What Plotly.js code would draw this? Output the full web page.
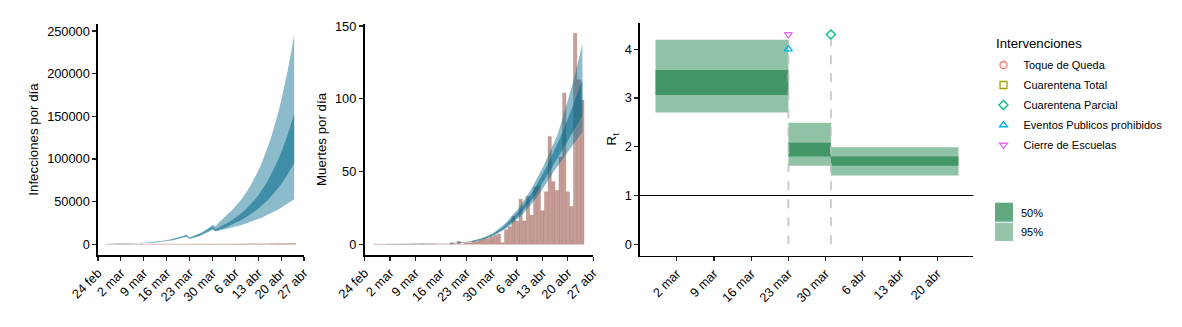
<!DOCTYPE html>
<html><head><meta charset="utf-8">
<script src="https://cdn.plot.ly/plotly-3.0.1.min.js"></script>
<style>html,body{margin:0;padding:0;background:#fff}#chart{width:1182px;height:327px}</style>
</head><body><div id="chart"></div>
<script>
// ---- dates (one per modelled day) ----
const dates = ['2020-02-27','2020-02-28','2020-02-29','2020-03-01','2020-03-02','2020-03-03','2020-03-04','2020-03-05','2020-03-06','2020-03-07',
'2020-03-08','2020-03-09','2020-03-10','2020-03-11','2020-03-12','2020-03-13','2020-03-14','2020-03-15','2020-03-16','2020-03-17',
'2020-03-18','2020-03-19','2020-03-20','2020-03-21','2020-03-22','2020-03-23','2020-03-24','2020-03-25','2020-03-26','2020-03-27',
'2020-03-28','2020-03-29','2020-03-30','2020-03-31','2020-04-01','2020-04-02','2020-04-03','2020-04-04','2020-04-05','2020-04-06',
'2020-04-07','2020-04-08','2020-04-09','2020-04-10','2020-04-11','2020-04-12','2020-04-13','2020-04-14','2020-04-15','2020-04-16',
'2020-04-17','2020-04-18','2020-04-19','2020-04-20','2020-04-21','2020-04-22','2020-04-23','2020-04-24'];

// ---- panel 1: infections per day ----
const reportedCases = [0,0,0,1,1,0,1,1,0,0,0,0,0,3,4,5,10,15,15,26,
28,46,39,48,65,51,38,48,132,106,124,141,156,157,130,170,192,175,
290,300,260,350,430,440,520,380,400,450,480,300,600,620,770,760,690,760,900,1090];
const infections95High = [327,378,439,509,591,685,796,922,1070,1241,1440,1670,1938,2247,2607,3025,3509,4070,4721,5476,6350,7367,8547,9914,11500,
8120,9400,10890,12610,14600,16910,19580,22680,
21000,25500,29500,33200,36600,40200,44200,48700,53500,58900,64800,71300,78400,86200,94800,104300,114800,126200,138900,152700,168000,184800,203300,223600,246000];
const infections50High = [301,349,405,470,545,632,734,850,986,1144,1327,1539,1786,2071,2403,2788,3234,3751,4351,5048,5853,6790,7878,9138,10600,
7420,8590,9950,11520,13350,15450,17890,20720,
18000,19700,21500,23500,25700,28100,30800,33600,36800,40200,44000,48100,52600,57500,62800,68700,75100,82200,89800,98200,107400,117400,128400,140400,153500];
const infections50Low = [270,313,363,421,488,566,657,762,884,1025,1189,1379,1601,1856,2154,2499,2898,3362,3900,4524,5246,6086,7060,8190,9500,
6650,7700,8920,10330,11960,13850,16040,18570,
15810,17030,18350,19780,21310,22970,24750,26670,28740,30970,33370,35960,38750,41760,45000,48490,52250,56310,60680,65380,70450,75920,81810,88160,95000];
const infections95Low = [247,286,332,385,447,519,602,698,809,939,1089,1263,1466,1700,1972,2288,2654,3079,3571,4143,4804,5573,6466,7500,8700,
6020,6970,8080,9350,10830,12540,14520,16810,
14910,15720,16570,17460,18410,19400,20450,21550,22720,23940,25240,26600,28030,29550,31140,32830,34600,36470,38440,40510,42700,45010,47440,50000,52700];

// ---- panel 2: deaths per day ----
const deaths = [0,0,0,0,0,0,0,0,0,0,0,0,0,0,0,0,0,0,0,0,
0,1,0,2,0,1,1,2,2,3,4,4,5,6,7,1,10,12,19,16,31,16,33,20,39,40,23,36,74,43,37,60,104,36,26,145,113,99];
const deaths95Low = [0.01,0.01,0.01,0.01,0.02,0.02,0.03,0.03,0.03,0.04,0.05,0.06,0.08,0.09,0.12,0.14,0.18,0.22,0.28,0.34,0.43,0.52,0.65,0.79,0.98,1.21,1.5,
1.85,2.29,2.82,3.47,4.23,5.17,6.28,7.6,9.1,10.78,12.65,14.7,16.91,19.25,21.81,24.59,27.59,30.8,34.2,37.81,41.57,45.49,49.53,53.65,57.08,60.35,63.73,67.08,70.53,73.91,77.37];
const deaths95High = [0.01,0.01,0.01,0.01,0.02,0.02,0.04,0.04,0.05,0.06,0.07,0.08,0.11,0.13,0.17,0.2,0.25,0.31,0.39,0.47,0.59,0.72,0.9,1.1,1.36,1.68,2.08,
2.57,3.17,3.92,4.81,5.88,7.17,8.72,10.55,12.63,14.96,17.56,20.4,23.47,26.73,30.28,34.14,38.3,42.75,47.48,52.49,57.71,63.15,68.76,74.48,82.11,90.04,98.49,107.54,117.04,127.09,137.66];
const deaths50Low = [0.01,0.01,0.01,0.01,0.02,0.02,0.03,0.03,0.04,0.05,0.06,0.07,0.08,0.1,0.13,0.16,0.2,0.24,0.31,0.37,0.47,0.57,0.71,0.86,1.07,1.32,1.64,
2.03,2.5,3.09,3.79,4.63,5.65,6.87,8.31,9.95,11.79,13.84,16.08,18.5,21.06,23.86,26.9,30.19,33.69,37.42,41.37,45.49,49.77,54.19,58.7,62.79,66.84,70.99,75.17,79.51,83.94,88.42];
const deaths50High = [0.01,0.01,0.01,0.01,0.02,0.02,0.03,0.03,0.04,0.05,0.06,0.08,0.1,0.12,0.15,0.18,0.23,0.28,0.36,0.43,0.54,0.66,0.82,1.0,1.24,1.53,1.9,
2.35,2.91,3.59,4.41,5.38,6.57,7.98,9.66,11.56,13.69,16.07,18.67,21.48,24.46,27.71,31.24,35.06,39.13,43.46,48.04,52.82,57.8,62.93,68.17,73.95,79.83,85.99,92.52,99.26,106.27,113.54];

// ---- panel 3: Rt by period ----
const rtPeriodStart = ['2020-02-27','2020-03-23','2020-03-31'];
const rtPeriodEnd   = ['2020-03-23','2020-03-31','2020-04-24'];
const rt95Low  = [2.70, 1.61, 1.41];
const rt95High = [4.19, 2.49, 1.99];
const rt50Low  = [3.06, 1.80, 1.61];
const rt50High = [3.57, 2.08, 1.80];

const interventionNames = ['Toque de Queda','Cuarentena Total','Cuarentena Parcial','Eventos Publicos prohibidos','Cierre de Escuelas'];
const interventionDates = [null, null, '2020-03-31', '2020-03-23', '2020-03-23'];
const interventionRt    = [null, null, 4.3, 4.0, 4.3];
const interventionSymbols = ['circle-open','square-open','diamond-open','triangle-up-open','triangle-down-open'];
const interventionColors  = ['#F8766D','#A3A500','#00BF7D','#00B0F6','#E76BF3'];

// ---- ticks ----
const tickDates  = ['2020-02-24','2020-03-02','2020-03-09','2020-03-16','2020-03-23','2020-03-30','2020-04-06','2020-04-13','2020-04-20','2020-04-27'];
const tickLabels = ['24 feb','2 mar','9 mar','16 mar','23 mar','30 mar','6 abr','13 abr','20 abr','27 abr'];
const rtTickDates  = ['2020-03-02','2020-03-09','2020-03-16','2020-03-23','2020-03-30','2020-04-06','2020-04-13','2020-04-20'];
const rtTickLabels = ['2 mar','9 mar','16 mar','23 mar','30 mar','6 abr','13 abr','20 abr'];
const infTicks = [0,50000,100000,150000,200000,250000];
const deathTicks = [0,50,100,150];
const rtTicks = [0,1,2,3,4];
const legendTitle = 'Intervenciones';
const bandLegend = ['50%','95%'];

// ---- styling ----
const FONT = 'Liberation Sans, Arial, Helvetica, sans-serif';
const BLUE95 = 'rgba(0,104,139,0.45)', BLUE50 = 'rgba(0,104,139,0.55)';
const CORAL = 'rgba(139,62,47,0.5)';
const GREEN95 = 'rgba(46,139,87,0.53)', GREEN50 = 'rgba(46,139,87,0.8)';
const DAY = 86400000;
const TICKSIZE = 12.8, TITLESIZE = 13.3, LEGSIZE = 11;

function ribbon(x, lo, hi, color, xa, ya) {
  return {type:'scatter', mode:'lines', x: x.concat(x.slice().reverse()), y: hi.concat(lo.slice().reverse()),
    fill:'toself', fillcolor: color, line:{width:0}, hoverinfo:'skip', showlegend:false, xaxis:xa, yaxis:ya};
}
function bars(x, y, xa, ya) {
  return {type:'bar', x, y, width:0.9*DAY, marker:{color:CORAL, line:{width:0.6, color:'rgba(139,62,47,0.35)'}},
    showlegend:false, hoverinfo:'skip', xaxis:xa, yaxis:ya};
}

const traces = [];
traces.push(bars(dates, reportedCases, 'x', 'y'));
traces.push(ribbon(dates, infections95Low, infections95High, BLUE95, 'x', 'y'));
traces.push(ribbon(dates, infections50Low, infections50High, BLUE50, 'x', 'y'));

traces.push(bars(dates, deaths, 'x2', 'y2'));
traces.push(ribbon(dates, deaths95Low, deaths95High, BLUE95, 'x2', 'y2'));
traces.push(ribbon(dates, deaths50Low, deaths50High, BLUE50, 'x2', 'y2'));

for (let i = 0; i < rtPeriodStart.length; i++) {
  const xs = [rtPeriodStart[i], rtPeriodEnd[i], rtPeriodEnd[i], rtPeriodStart[i]];
  traces.push({type:'scatter', mode:'lines', x:xs, y:[rt95Low[i],rt95Low[i],rt95High[i],rt95High[i]], fill:'toself',
    fillcolor:GREEN95, line:{width:0}, hoverinfo:'skip', showlegend:false, xaxis:'x3', yaxis:'y3'});
}
for (let i = 0; i < rtPeriodStart.length; i++) {
  const xs = [rtPeriodStart[i], rtPeriodEnd[i], rtPeriodEnd[i], rtPeriodStart[i]];
  traces.push({type:'scatter', mode:'lines', x:xs, y:[rt50Low[i],rt50Low[i],rt50High[i],rt50High[i]], fill:'toself',
    fillcolor:GREEN50, line:{width:0}, hoverinfo:'skip', showlegend:false, xaxis:'x3', yaxis:'y3'});
}
// dashed intervention lines
const rtTop = Math.max(...rt95High);
const seen = {};
interventionDates.forEach(d => {
  if (!d || seen[d]) return; seen[d] = true;
  traces.push({type:'scatter', mode:'lines', x:[d,d], y:[0, rtTop], line:{color:'rgba(190,190,190,0.85)', width:1.8, dash:'dash'},
    hoverinfo:'skip', showlegend:false, xaxis:'x3', yaxis:'y3'});
});
// intervention markers (legend)
interventionNames.forEach((n, i) => {
  traces.push({type:'scatter', mode:'markers', name:n, legendgroup:n,
    x:[interventionDates[i]], y:[interventionRt[i]],
    marker:{symbol:interventionSymbols[i], color:interventionColors[i], size:7, line:{width:1.3, color:interventionColors[i]}},
    xaxis:'x3', yaxis:'y3', showlegend:true});
});

function xAxis(domain, range, tv, tt, anchor) {
  return {domain, range, type:'date', tickvals:tv, ticktext:tt, tickangle:-45, showline:true, linecolor:'#000', linewidth:1.6,
    ticks:'outside', ticklen:4, tickwidth:1.2, tickcolor:'#222', showgrid:false, zeroline:false, anchor, automargin:false,
    tickfont:{family:FONT, size:TICKSIZE, color:'#000'}, fixedrange:true};
}
function yAxis(domain, range, tv, title, standoff, anchor) {
  return {domain, range, tickvals:tv, ticktext:tv.map(String), showline:true, linecolor:'#000', linewidth:1.6,
    ticks:'outside', ticklen:4, tickwidth:1.2, tickcolor:'#222', showgrid:false, zeroline:false, anchor, automargin:false,
    tickfont:{family:FONT, size:TICKSIZE, color:'#000'}, title:{text:title, font:{family:FONT, size:TITLESIZE, color:'#000'}, standoff},
    fixedrange:true};
}
const YD = [0.2202, 0.9266];
const W = 1182, H = 327;
const layout = {
  width:W, height:H, margin:{l:0,r:0,t:0,b:0}, paper_bgcolor:'#fff', plot_bgcolor:'rgba(0,0,0,0)',
  font:{family:FONT, color:'#000'}, barmode:'overlay', bargap:0,
  xaxis: xAxis([98/W, 304/W], ['2020-02-24','2020-04-27'], tickDates, tickLabels, 'y'),
  yaxis: yAxis(YD, [-12600, 258300], infTicks, 'Infecciones por día', 5, 'x'),
  xaxis2: xAxis([364.5/W, 593.3/W], ['2020-02-24','2020-04-27'], tickDates, tickLabels, 'y2'),
  yaxis2: yAxis(YD, [-7.4, 151.4], deathTicks, 'Muertes por día', 5, 'x2'),
  xaxis3: xAxis([640/W, 973.3/W], ['2020-02-24 02:00','2020-04-26 19:00'], rtTickDates, rtTickLabels, 'y3'),
  yaxis3: yAxis([ (H-255.7)/H, (H-23)/H ], [-0.234, 4.535], rtTicks, 'R<sub>t</sub>', 5, 'x3'),
  showlegend:true,
  legend:{x:983.5/W, y:1-50.5/H, xanchor:'left', yanchor:'top', bgcolor:'rgba(0,0,0,0)', tracegroupgap:1,
    font:{family:FONT, size:LEGSIZE, color:'#000'}},
  shapes:[
    {type:'line', xref:'x3 domain', x0:0, x1:1, yref:'y3', y0:1, y1:1, line:{color:'#000', width:1}},
    {type:'rect', xref:'paper', yref:'paper', x0:995/W, x1:1013/W, y0:1-221.7/H, y1:1-202.7/H, fillcolor:'rgba(46,139,87,0.75)', line:{width:0}},
    {type:'rect', xref:'paper', yref:'paper', x0:995/W, x1:1013/W, y0:1-241/H, y1:1-222.7/H, fillcolor:'rgba(46,139,87,0.5)', line:{width:0}}
  ],
  annotations:[
    {xref:'paper', yref:'paper', x:993.5/W, y:1-43.3/H, xanchor:'left', yanchor:'middle', text:legendTitle, showarrow:false, font:{family:FONT, size:13.2, color:'#000'}},
    {xref:'paper', yref:'paper', x:1019/W, y:1-212.5/H, xanchor:'left', yanchor:'middle', text:bandLegend[0], showarrow:false, font:{family:FONT, size:LEGSIZE, color:'#000'}},
    {xref:'paper', yref:'paper', x:1019/W, y:1-232.5/H, xanchor:'left', yanchor:'middle', text:bandLegend[1], showarrow:false, font:{family:FONT, size:LEGSIZE, color:'#000'}}
  ]
};
Plotly.newPlot('chart', traces, layout, {displayModeBar:false, staticPlot:true});
</script></body></html>
